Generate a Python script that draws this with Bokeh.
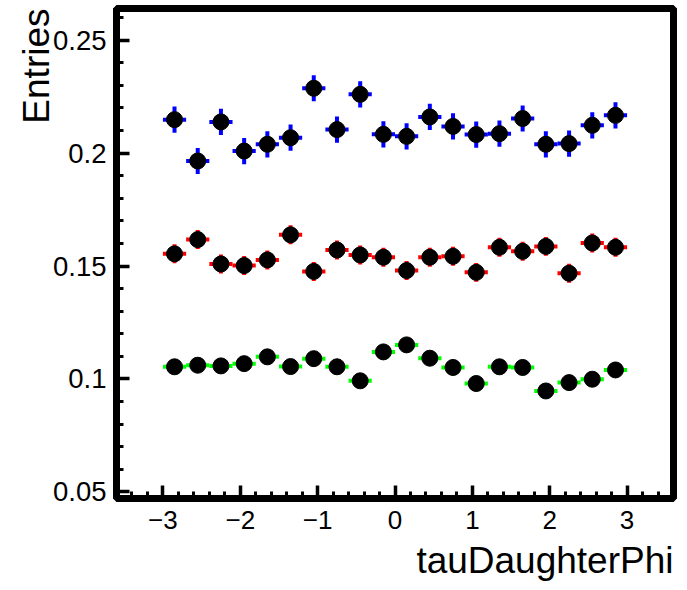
import math
from bokeh.plotting import figure
from bokeh.models import Range1d, SingleIntervalTicker, CustomJSTickFormatter, Title
from bokeh.embed import file_html
from bokeh.resources import INLINE

# bin centres of tauDaughterPhi (20 bins of width 0.3 from -3 to 3)
phi = [-2.85, -2.55, -2.25, -1.95, -1.65, -1.35, -1.05, -0.75, -0.45, -0.15,
       0.15, 0.45, 0.75, 1.05, 1.35, 1.65, 1.95, 2.25, 2.55, 2.85]
half_bin = 0.15

blue_vals = [0.2148, 0.1965, 0.2138, 0.2009, 0.2039, 0.2068, 0.2287, 0.2104, 0.2260, 0.2083,
             0.2074, 0.2160, 0.2118, 0.2082, 0.2086, 0.2153, 0.2039, 0.2042, 0.2123, 0.2167]
red_vals = [0.1554, 0.1617, 0.1509, 0.1502, 0.1527, 0.1638, 0.1476, 0.1571, 0.1549, 0.1539,
            0.1480, 0.1539, 0.1543, 0.1472, 0.1583, 0.1565, 0.1587, 0.1468, 0.1602, 0.1583]
green_vals = [0.1054, 0.1061, 0.1058, 0.1068, 0.1098, 0.1055, 0.1090, 0.1054, 0.0992, 0.1120,
              0.1151, 0.1092, 0.1051, 0.0980, 0.1054, 0.1051, 0.0947, 0.0984, 0.0999, 0.1040]
blue_err = 0.0058
red_err = 0.0042
green_err = 0.0034

series = [("#0000ff", blue_vals, blue_err),
          ("#ff0000", red_vals, red_err),
          ("#00ff00", green_vals, green_err)]

x_title = "tauDaughterPhi"
y_title = "Entries"

FONT = "Liberation Sans"

p = figure(width=687, height=590, x_range=Range1d(-3.6, 3.6), y_range=Range1d(0.0471, 0.264),
           output_backend="svg", toolbar_location=None,
           min_border_left=116, min_border_right=14, min_border_top=8, min_border_bottom=92)
p.title.visible = False
p.xgrid.grid_line_color = None
p.ygrid.grid_line_color = None
p.outline_line_color = "black"
p.outline_line_width = 7
p.background_fill_color = "white"
p.border_fill_color = "white"

for color, vals, err in series:
    p.segment(x0=[x - half_bin for x in phi], x1=[x + half_bin for x in phi],
              y0=vals, y1=vals, line_color=color, line_width=4)
    p.segment(x0=phi, x1=phi, y0=[v - err for v in vals], y1=[v + err for v in vals],
              line_color=color, line_width=4)
for color, vals, err in series:
    p.scatter(phi, vals, size=16, fill_color="black", line_color="black")

p.xaxis.ticker = SingleIntervalTicker(interval=1, num_minor_ticks=5)
p.yaxis.ticker = SingleIntervalTicker(interval=0.05, num_minor_ticks=5)
p.xaxis.formatter = CustomJSTickFormatter(code="""
const v = Math.round(tick);
return v < 0 ? "\\u2212" + (-v) : "" + v;
""")
p.yaxis.formatter = CustomJSTickFormatter(code="""
return "" + (Math.round(tick * 100) / 100);
""")
for ax in (p.xaxis, p.yaxis):
    ax.axis_line_color = "black"
    ax.axis_line_width = 7
    ax.major_tick_in = 13
    ax.major_tick_out = 0
    ax.minor_tick_in = 7
    ax.minor_tick_out = 0
    ax.major_tick_line_width = 3.5
    ax.minor_tick_line_width = 3
    ax.major_tick_line_color = "black"
    ax.minor_tick_line_color = "black"
    ax.major_label_text_font = FONT
    ax.major_label_text_color = "black"
p.xaxis.major_label_text_font_size = "26px"
p.xaxis.major_label_standoff = 12
p.yaxis.major_label_text_font_size = "27.5px"
p.yaxis.major_label_standoff = 10

p.add_layout(Title(text=x_title, align="right", text_font=FONT, text_font_size="37px",
                   text_font_style="normal", text_color="black", standoff=12), "below")
p.add_layout(Title(text=y_title, align="right", text_font=FONT, text_font_size="37px",
                   text_font_style="normal", text_color="black", standoff=-14), "left")

open("out.html", "w").write(file_html(p, INLINE))
